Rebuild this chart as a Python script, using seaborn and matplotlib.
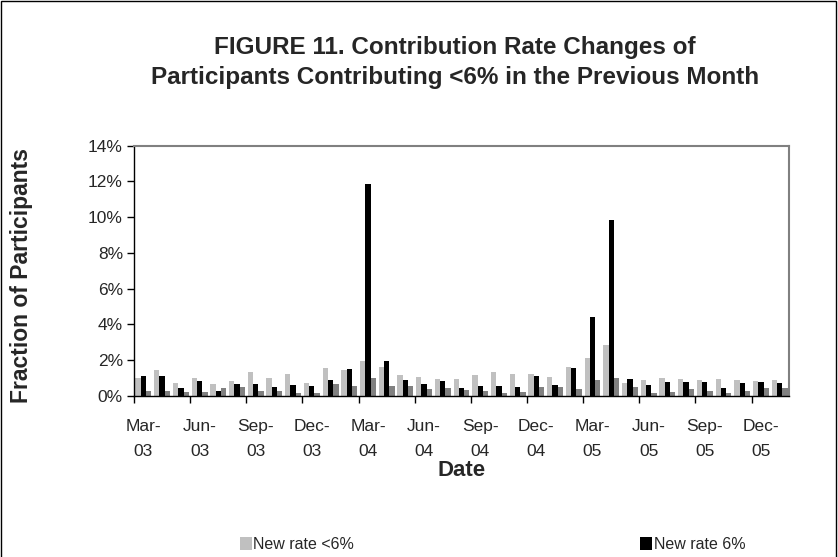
import pandas as pd
import matplotlib as mpl
import matplotlib.pyplot as plt
from matplotlib.patches import Patch, Rectangle
from matplotlib.ticker import PercentFormatter, FixedLocator
import seaborn as sns

sns.set_style('white')
mpl.rcParams['font.family'] = ['Liberation Sans', 'DejaVu Sans']
mpl.rcParams['ytick.direction'] = 'out'
mpl.rcParams['xtick.direction'] = 'out'

months = ['Mar-03', 'Apr-03', 'May-03', 'Jun-03', 'Jul-03', 'Aug-03', 'Sep-03', 'Oct-03',
          'Nov-03', 'Dec-03', 'Jan-04', 'Feb-04', 'Mar-04', 'Apr-04', 'May-04', 'Jun-04',
          'Jul-04', 'Aug-04', 'Sep-04', 'Oct-04', 'Nov-04', 'Dec-04', 'Jan-05', 'Feb-05',
          'Mar-05', 'Apr-05', 'May-05', 'Jun-05', 'Jul-05', 'Aug-05', 'Sep-05', 'Oct-05',
          'Nov-05', 'Dec-05', 'Jan-06']

# fraction of participants, in percent
below6 = [0.97, 1.42, 0.69, 0.97, 0.66, 0.82, 1.30, 0.99, 1.20, 0.71, 1.57, 1.46,
          1.92, 1.63, 1.16, 1.07, 0.93, 0.91, 1.14, 1.30, 1.20, 1.23, 1.07, 1.59,
          2.11, 2.82, 0.69, 0.86, 1.01, 0.95, 0.86, 0.95, 0.89, 0.80, 0.86]
at6 = [1.08, 1.08, 0.45, 0.80, 0.28, 0.68, 0.68, 0.47, 0.60, 0.56, 0.86, 1.49,
       11.85, 1.92, 0.86, 0.66, 0.80, 0.45, 0.52, 0.52, 0.47, 1.10, 0.58, 1.55,
       4.42, 9.84, 0.95, 0.58, 0.74, 0.76, 0.78, 0.45, 0.69, 0.78, 0.69]
above6 = [0.26, 0.28, 0.21, 0.21, 0.43, 0.47, 0.25, 0.25, 0.17, 0.17, 0.64, 0.56,
          0.99, 0.56, 0.52, 0.35, 0.41, 0.31, 0.29, 0.17, 0.23, 0.47, 0.50, 0.39,
          0.86, 0.97, 0.49, 0.13, 0.19, 0.35, 0.26, 0.15, 0.26, 0.45, 0.45]

series = ['New rate <6%', 'New rate 6%', 'New rate >6%']
colors = ['#c0c0c0', '#000000', '#808080']

df = pd.DataFrame({'Month': months * 3,
                   'Value': below6 + at6 + above6,
                   'Series': [series[0]] * len(months) + [series[1]] * len(months)
                             + [series[2]] * len(months)})

f = plt.figure(figsize=(8.38, 5.57), dpi=100)
f.patch.set_facecolor('white')
ax = f.add_axes([0.160, 0.2896, 0.7815, 0.4488])

sns.barplot(x='Month', y='Value', hue='Series', data=df, order=months, hue_order=series,
            palette=colors, width=0.85, linewidth=0, saturation=1, ax=ax, legend=False)

ax.set_xlim(-0.5, len(months) - 0.5)
ax.set_ylim(0, 14)
ax.set_yticks(range(0, 15, 2))
ax.yaxis.set_major_formatter(PercentFormatter(xmax=100, decimals=0))

# labels centred on every third month, tick marks between categories
lbl_pos = list(range(0, len(months), 3))
ax.set_xticks(lbl_pos)
ax.set_xticklabels([months[i].replace('-', '-\n') for i in lbl_pos], linespacing=1.77)
ax.xaxis.set_minor_locator(FixedLocator([i - 0.5 for i in lbl_pos]))
ax.tick_params(axis='x', which='major', length=0, labelsize=12.5, pad=17)
ax.tick_params(axis='x', which='minor', length=5, width=1, color='black', bottom=True)
ax.tick_params(axis='y', length=5, width=1, color='black', left=True, labelsize=12.5, pad=3)

for side in ['top', 'right']:
    ax.spines[side].set_color('#808080')
    ax.spines[side].set_linewidth(1.5)
for side in ['left', 'bottom']:
    ax.spines[side].set_color('black')
    ax.spines[side].set_linewidth(1.0)

ax.set_xlabel('Date', fontsize=16, fontweight='bold', labelpad=1)
ax.set_ylabel('Fraction of Participants', fontsize=16.5, fontweight='bold')
ax.yaxis.set_label_coords(-0.154, 0.479)

f.text(0.543, 0.888, 'FIGURE 11. Contribution Rate Changes of\n'
       'Participants Contributing <6% in the Previous Month',
       ha='center', va='center', fontsize=17.5, fontweight='bold', linespacing=1.43)

for lab, col, xpos in [(series[0], colors[0], 0.286), (series[1], colors[1], 0.764)]:
    leg = f.legend(handles=[Patch(facecolor=col, edgecolor='none')], labels=[lab],
                   loc='center left', bbox_to_anchor=(xpos, 0.022), frameon=False,
                   fontsize=11.5, handlelength=0.75, handleheight=0.9, handletextpad=0.1,
                   borderpad=0, borderaxespad=0)

f.add_artist(Rectangle((0.001, -0.1), 0.997, 1.098, transform=f.transFigure,
                       fill=False, edgecolor='black', linewidth=1))

plt.savefig('out.png', dpi=100, facecolor='white')
